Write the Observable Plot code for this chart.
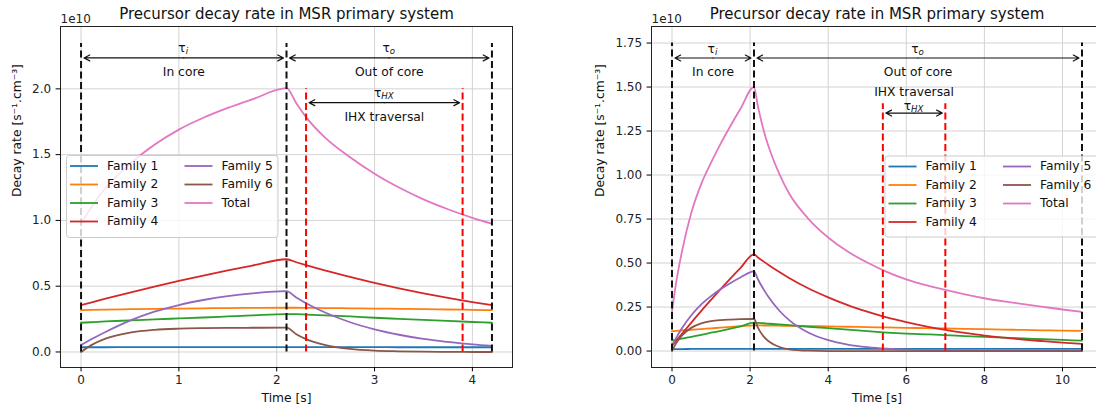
<!DOCTYPE html>
<html><head><meta charset="utf-8">
<script src="https://cdn.jsdelivr.net/npm/d3@7"></script>
<script src="https://cdn.jsdelivr.net/npm/@observablehq/plot@0.6"></script>
<style>
body{margin:0;background:#fff;}
#wrap{position:relative;width:1096px;height:407px;overflow:hidden;font-family:"DejaVu Sans",sans-serif;background:#fff;}
#wrap svg{position:absolute;top:0;}
</style></head><body><div id="wrap"></div>
<script>
// ---- series ----
const seriesNames = ["Family 1","Family 2","Family 3","Family 4","Family 5","Family 6","Total"];
const seriesColors = ["#1f77b4","#ff7f0e","#2ca02c","#d62728","#9467bd","#8c564b","#e377c2"];

// ---- left panel (values in 1e10 s^-1.cm^-3) ----
const timeLeft  = [0, 0.1, 0.25, 0.5, 0.75, 1, 1.25, 1.5, 1.75, 2.1, 2.2, 2.3, 2.5, 2.75, 3, 3.25, 3.5, 3.75, 4, 4.2];
const fam1Left  = [0.036,0.036,0.036,0.037,0.037,0.037,0.037,0.037,0.037,0.037,0.037,0.037,0.037,0.037,0.037,0.036,0.036,0.036,0.036,0.036];
const fam2Left  = [0.318,0.320,0.322,0.325,0.328,0.330,0.332,0.334,0.335,0.336,0.336,0.335,0.334,0.332,0.330,0.328,0.326,0.323,0.320,0.318];
const fam3Left  = [0.222,0.226,0.232,0.240,0.248,0.255,0.262,0.270,0.278,0.288,0.287,0.284,0.278,0.270,0.260,0.252,0.244,0.236,0.228,0.222];
const fam4Left  = [0.356,0.376,0.405,0.452,0.497,0.540,0.581,0.620,0.657,0.705,0.682,0.660,0.618,0.570,0.525,0.484,0.446,0.411,0.379,0.356];
const fam5Left  = [0.053,0.095,0.152,0.238,0.306,0.357,0.395,0.424,0.445,0.462,0.414,0.371,0.298,0.226,0.172,0.131,0.099,0.076,0.057,0.046];
const fam6Left  = [0.000,0.050,0.101,0.147,0.168,0.177,0.181,0.183,0.184,0.185,0.135,0.098,0.052,0.023,0.010,0.005,0.002,0.001,0.000,0.000];
const totalLeft = [0.975,1.095,1.245,1.430,1.575,1.690,1.780,1.855,1.920,2.005,1.890,1.785,1.625,1.480,1.355,1.250,1.160,1.085,1.020,0.975];

// ---- right panel ----
const timeRight  = [0, 0.1, 0.25, 0.5, 0.75, 1, 1.25, 1.5, 1.75, 2.1, 2.2, 2.35, 2.5, 2.75, 3, 3.5, 4, 4.5, 5, 5.5, 6, 6.5, 7, 7.5, 8, 8.5, 9, 9.5, 10, 10.5];
const fam1Right  = [0.011,0.011,0.011,0.012,0.012,0.012,0.012,0.012,0.012,0.012,0.012,0.012,0.012,0.012,0.012,0.012,0.012,0.012,0.012,0.012,0.012,0.012,0.012,0.012,0.012,0.012,0.012,0.012,0.012,0.012];
const fam2Right  = [0.113,0.115,0.117,0.121,0.125,0.129,0.133,0.137,0.141,0.146,0.146,0.145,0.145,0.144,0.143,0.142,0.140,0.138,0.136,0.134,0.132,0.130,0.128,0.126,0.124,0.122,0.120,0.118,0.116,0.115];
const fam3Right  = [0.060,0.064,0.070,0.081,0.092,0.104,0.115,0.127,0.140,0.161,0.160,0.158,0.155,0.151,0.147,0.138,0.130,0.122,0.113,0.105,0.099,0.095,0.091,0.085,0.080,0.076,0.072,0.067,0.063,0.059];
const fam4Right  = [0.030,0.057,0.097,0.163,0.228,0.291,0.353,0.413,0.471,0.549,0.532,0.508,0.485,0.449,0.415,0.355,0.305,0.261,0.224,0.191,0.164,0.140,0.120,0.103,0.088,0.076,0.065,0.056,0.048,0.041];
const fam5Right  = [0.030,0.072,0.128,0.205,0.265,0.312,0.352,0.387,0.418,0.453,0.408,0.349,0.298,0.229,0.176,0.104,0.062,0.037,0.022,0.013,0.008,0.005,0.003,0.002,0.001,0.001,0.001,0.001,0.001,0.001];
const fam6Right  = [0.000,0.042,0.087,0.133,0.157,0.170,0.176,0.179,0.181,0.182,0.133,0.082,0.051,0.023,0.010,0.002,0.000,0.000,0.000,0.000,0.000,0.000,0.000,0.000,0.000,0.000,0.000,0.000,0.000,0.000];
const totalRight = [0.222,0.380,0.560,0.790,0.950,1.070,1.180,1.280,1.375,1.500,1.390,1.252,1.145,1.005,0.895,0.750,0.645,0.565,0.503,0.450,0.407,0.374,0.347,0.322,0.300,0.282,0.266,0.251,0.236,0.223];

// ---- ticks ----
const xTicksLeft = [0,1,2,3,4];
const yTicksLeft = [0,0.5,1,1.5,2];
const xTicksRight = [0,2,4,6,8,10];
const yTicksRight = [0,0.25,0.5,0.75,1,1.25,1.5,1.75];

const titleText = "Precursor decay rate in MSR primary system";
const yLabel = "Decay rate [s\u207B\u00B9.cm\u207B\u00B3]";
const xLabel = "Time [s]";
const FONT = "DejaVu Sans";

function buildRows(times, cols) {
  const rows = [];
  cols.forEach((arr, k) => times.forEach((t, i) => rows.push({t, v: arr[i], s: seriesNames[k]})));
  return rows;
}

function panel(cfg) {
  const rows = buildRows(cfg.times, cfg.cols);
  const arrowRows = [];
  for (const a of cfg.arrows) {
    const mid = (a.a + a.b) / 2;
    arrowRows.push({x1: mid, x2: a.a, y: a.y}, {x1: mid, x2: a.b, y: a.y});
  }
  const svg = Plot.plot({
    width: cfg.width, height: 407,
    marginLeft: cfg.ml, marginRight: cfg.mr, marginTop: 26, marginBottom: 40,
    style: {fontFamily: FONT, fontSize: "11px", background: "transparent", overflow: "visible"},
    x: {domain: cfg.xDomain},
    y: {domain: cfg.yDomain},
    color: {domain: seriesNames, range: seriesColors},
    marks: [
      Plot.gridX({ticks: cfg.xTicks, stroke: "#d3d3d3", strokeOpacity: 1, strokeWidth: 1}),
      Plot.gridY({ticks: cfg.yTicks, stroke: "#d3d3d3", strokeOpacity: 1, strokeWidth: 1}),
      Plot.line(rows, {x: "t", y: "v", z: "s", stroke: "s", strokeWidth: 1.8, curve: "monotone-x"}),
      Plot.ruleX(cfg.blackX, {y1: 0, y2: cfg.blackTop, stroke: "#111", strokeWidth: 2, strokeDasharray: "7,3.5"}),
      Plot.ruleX(cfg.redX, {y1: 0, y2: cfg.redTop, stroke: "#ff0000", strokeWidth: 2, strokeDasharray: "7,3.5"}),
      Plot.arrow(arrowRows, {x1: "x1", x2: "x2", y1: "y", y2: "y", stroke: "#111", strokeWidth: 1.2, headLength: 8, headAngle: 55, insetEnd: 3}),
      Plot.text(cfg.labels, {x: "t", y: "v", text: "text", fontSize: 12.3, fill: "#111"}),
      Plot.frame({stroke: "#222", strokeWidth: 1}),
      Plot.axisX({ticks: cfg.xTicks, tickFormat: d3.format("d"), label: null, tickSize: 4.4, tickPadding: 3.5, fontSize: 12, fill: "#222"}),
      Plot.axisY({ticks: cfg.yTicks, tickFormat: d3.format(cfg.yFmt), label: null, tickSize: 4.4, tickPadding: 5, fontSize: 12, fill: "#222"}),
      Plot.text([titleText], {frameAnchor: "top", lineAnchor: "middle", dy: -12, fontSize: 15, fill: "#111"}),
      Plot.text(["1e10"], {frameAnchor: "top-left", lineAnchor: "middle", textAnchor: "start", dy: -7, fontSize: 12, fill: "#222"}),
      Plot.text([xLabel], {frameAnchor: "bottom", lineAnchor: "middle", dy: 30.5, fontSize: 12.3, fill: "#111"}),
      Plot.text([yLabel], {frameAnchor: "left", lineAnchor: "middle", dx: cfg.yLabelDx, rotate: -90, fontSize: 12.3, fill: "#111"})
    ]
  });
  svg.style.left = cfg.left + "px";
  const xs = svg.scale("x"), ys = svg.scale("y");
  const sel = d3.select(svg);
  // tau labels
  for (const tl of cfg.taus) {
    const t = sel.append("text")
      .attr("x", xs.apply(tl.t)).attr("y", ys.apply(tl.v))
      .attr("text-anchor", "middle").attr("dominant-baseline", "middle")
      .attr("font-family", FONT).attr("font-size", 12.3).attr("fill", "#111");
    t.append("tspan").text("\u03C4");
    t.append("tspan").attr("dy", 3).attr("font-size", 8.6).attr("font-style", "italic").text(tl.sub);
  }
  // legend
  const L = cfg.legend;
  const g = sel.append("g").attr("font-family", FONT).attr("font-size", 12.3).attr("text-anchor", "start");
  g.append("rect").attr("x", L.x).attr("y", L.y).attr("width", L.w).attr("height", L.h)
    .attr("rx", 3).attr("fill", "#fff").attr("fill-opacity", 0.8).attr("stroke", "#cccccc").attr("stroke-width", 1);
  seriesNames.forEach((name, i) => {
    const col = i < 4 ? 0 : 1;
    const row = i < 4 ? i : i - 4;
    const lx = L.x + (col === 0 ? 3.5 : 118);
    const yy = L.y + 10.5 + row * 18.5;
    g.append("line").attr("x1", lx).attr("x2", lx + 28).attr("y1", yy).attr("y2", yy)
      .attr("stroke", seriesColors[i]).attr("stroke-width", 1.8);
    g.append("text").attr("x", lx + 37).attr("y", yy).attr("dominant-baseline", "middle")
      .attr("text-anchor", "start").attr("fill", "#111").text(name);
  });
  return svg;
}

const wrap = document.getElementById("wrap");

wrap.appendChild(panel({
  left: 0, width: 548, ml: 60, mr: 36,
  times: timeLeft, cols: [fam1Left, fam2Left, fam3Left, fam4Left, fam5Left, fam6Left, totalLeft],
  xDomain: [-0.21, 4.41], yDomain: [-0.118, 2.474],
  xTicks: xTicksLeft, yTicks: yTicksLeft, yFmt: ".1f",
  blackX: [0, 2.1, 4.2], blackTop: 2.345,
  redX: [2.3, 3.9], redTop: 2.0,
  arrows: [{a: 0, b: 2.1, y: 2.235}, {a: 2.1, b: 4.2, y: 2.235}, {a: 2.3, b: 3.9, y: 1.895}],
  labels: [
    {t: 1.05, v: 2.126, text: "In core"},
    {t: 3.15, v: 2.126, text: "Out of core"},
    {t: 3.1, v: 1.788, text: "IHX traversal"}
  ],
  taus: [{t: 1.05, v: 2.31, sub: "i"}, {t: 3.15, v: 2.31, sub: "o"}, {t: 3.1, v: 1.965, sub: "HX"}],
  yLabelDx: -43,
  legend: {x: 66.5, y: 155.5, w: 211.5, h: 82}
}));

wrap.appendChild(panel({
  left: 548, width: 560, ml: 103, mr: 6,
  times: timeRight, cols: [fam1Right, fam2Right, fam3Right, fam4Right, fam5Right, fam6Right, totalRight],
  xDomain: [-0.525, 11.025], yDomain: [-0.0935, 1.844],
  xTicks: xTicksRight, yTicks: yTicksRight, yFmt: ".2f",
  blackX: [0, 2.1, 10.5], blackTop: 1.75,
  redX: [5.4, 7.0], redTop: 1.405,
  arrows: [{a: 0, b: 2.1, y: 1.665}, {a: 2.1, b: 10.5, y: 1.665}, {a: 5.4, b: 7.0, y: 1.352}],
  labels: [
    {t: 1.05, v: 1.585, text: "In core"},
    {t: 6.3, v: 1.585, text: "Out of core"},
    {t: 6.2, v: 1.471, text: "IHX traversal"}
  ],
  taus: [{t: 1.05, v: 1.715, sub: "i"}, {t: 6.3, v: 1.715, sub: "o"}, {t: 6.2, v: 1.39, sub: "HX"}],
  yLabelDx: -51,
  legend: {x: 337, y: 156, w: 220, h: 81}
}));
</script></body></html>
